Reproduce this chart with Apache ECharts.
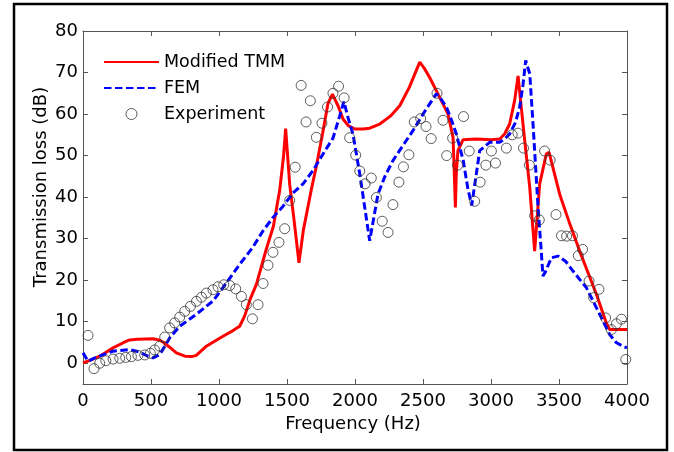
<!DOCTYPE html>
<html>
<head>
<meta charset="utf-8">
<script src="https://cdn.jsdelivr.net/npm/echarts@6/dist/echarts.min.js"></script>
<style>
html,body{margin:0;padding:0;background:#fff;}
#chart{width:674px;height:452px;}
</style>
</head>
<body>
<div id="chart"></div>
<script>
var xTicks = [0,500,1000,1500,2000,2500,3000,3500,4000];
var yTicks = [0,10,20,30,40,50,60,70,80];

var tmmFreq = [0,60,123,221,300,343,400,515,560,588,640,686,750,800,833,907,1029,1100,1152,1189,1230,1275,1348,1400,1432,1446,1475,1490,1500,1520,1550,1588,1620,1680,1716,1760,1801,1834,1875,1912,1950,2000,2060,2108,2182,2260,2329,2400,2476,2510,2549,2623,2684,2721,2730,2738,2745,2757,2794,2892,3000,3064,3100,3137,3174,3199,3215,3248,3285,3321,3358,3407,3427,3505,3580,3652,3775,3848,3873,4000];
var tmmLoss = [0.1,0.8,1.7,3.7,5.0,5.6,5.8,5.9,5.6,5.1,3.8,2.5,1.7,1.6,1.9,4.1,6.5,7.8,8.9,11.4,15.5,19,27.5,33,39,41.5,50,56.5,52,43,35,24.2,32,42,47.5,55,62.5,64.8,62,58.8,57.2,56.4,56.4,56.6,57.6,59.5,62,66.5,72.5,71,68.8,64,60,54.4,46,37.5,46,51.2,53.8,54,53.8,54,55.2,57.6,63.3,69.2,64,53.6,42.3,27,43.2,50.4,50.8,40.7,33.5,27,16.6,9.7,8.1,8.1];

var femFreq = [0,37,100,221,343,417,470,515,564,600,637,711,834,956,1029,1152,1250,1324,1397,1471,1544,1618,1691,1765,1838,1887,1918,1950,1985,2035,2108,2169,2220,2279,2350,2426,2510,2598,2635,2672,2710,2745,2796,2830,2858,2885,2917,2990,3064,3100,3137,3180,3211,3235,3255,3285,3309,3346,3371,3382,3400,3444,3493,3550,3603,3701,3799,3873,3920,3971,4000];
var femLoss = [2.5,0.5,1.5,2.9,3.3,2.7,1.8,1.3,2.1,4,6.1,8.9,11.8,15,18.2,23.8,28,31.9,35.1,37.8,41,43.2,46.4,50.4,54.2,59.5,63,59,55.2,45.6,29.5,40.7,45,48.8,52.3,56,60.5,64.9,63.5,61.7,58.5,55.2,48.8,42,38,44,51.2,53.2,53.2,54,55.2,58,61.7,67,72.9,69.7,57.6,37.5,26.3,21,22,25.4,25.8,24.5,22.2,18.2,11.8,6.9,5,4.1,3.7];

var expFreq = [37,81,123,168,221,270,314,356,404,454,495,527,564,601,637,674,711,748,790,834,871,907,956,993,1035,1079,1123,1165,1201,1246,1287,1324,1360,1397,1441,1483,1520,1560,1604,1640,1672,1716,1757,1798,1838,1879,1920,1961,2005,2035,2074,2120,2157,2200,2243,2279,2323,2356,2396,2436,2483,2522,2560,2603,2647,2674,2718,2754,2798,2840,2880,2920,2962,3003,3033,3113,3156,3198,3239,3282,3321,3355,3394,3435,3478,3518,3556,3599,3642,3673,3721,3755,3794,3843,3885,3922,3959,3991];
var expLoss = [6.7,-1.3,0,0.6,1.0,1.2,1.4,1.6,1.9,2.0,2.4,3.2,4.1,6.3,8.5,9.7,11.1,12.5,13.7,14.9,15.9,16.9,17.7,18.4,18.9,18.7,17.9,16.1,14.1,10.7,14.1,19.2,23.6,26.7,29.1,32.4,39.2,47.2,66.9,58.1,63.2,54.4,57.8,61.7,65,66.7,63.9,54.3,50.1,46.3,43.2,44.6,39.9,34.2,31.5,38.2,43.6,47.3,50.2,58.1,58.9,57,54.1,65,58.5,50,54.2,47.7,59.4,51.1,39,43.6,47.7,51.1,48.2,51.8,55,55.4,51.8,47.7,35.5,34.5,51.1,48.9,35.8,30.7,30.6,30.7,25.9,27.4,19.8,15.8,17.8,10.9,8.1,9.5,10.6,0.9];

function zip(a,b){return a.map(function(v,i){return [v,b[i]];});}

var chart = echarts.init(document.getElementById('chart'), null, {renderer:'canvas'});
var FONT = 'DejaVu Sans';
var axisColor = '#555';
function plain(v){return String(v);}

chart.setOption({
  animation:false,
  backgroundColor:'#fff',
  textStyle:{fontFamily:FONT},
  grid:{left:83, right:47, top:31, bottom:68, containLabel:false},
  legend:{
    orient:'vertical', left:103, top:51, padding:0,
    itemWidth:55, itemHeight:11, itemGap:4,
    textStyle:{fontFamily:FONT, fontSize:17.5, color:'#000', lineHeight:22},
    data:[
      {name:'Modified TMM', itemStyle:{opacity:0}},
      {name:'FEM', itemStyle:{opacity:0}},
      {name:'Experiment', itemStyle:{borderWidth:0.8, borderColor:'#333', color:'rgba(0,0,0,0)'}}
    ]
  },
  xAxis:[{
    type:'value', min:0, max:4000, interval:500, position:'bottom',
    axisLine:{show:true, onZero:false, lineStyle:{color:axisColor, width:1}},
    axisTick:{show:true, inside:true, length:5, lineStyle:{color:axisColor}},
    axisLabel:{show:true, fontFamily:FONT, fontSize:18, color:'#000', margin:8, formatter:plain},
    splitLine:{show:false}
  },{
    type:'value', min:0, max:4000, interval:500, position:'top',
    axisLine:{show:true, onZero:false, lineStyle:{color:axisColor, width:1}},
    axisTick:{show:true, inside:true, length:5, lineStyle:{color:axisColor}},
    axisLabel:{show:false},
    splitLine:{show:false}
  }],
  yAxis:[{
    type:'value', min:-5, max:80, position:'left',
    axisLine:{show:true, onZero:false, lineStyle:{color:axisColor, width:1}},
    axisTick:{show:true, inside:true, length:5, lineStyle:{color:axisColor}, customValues:yTicks},
    axisLabel:{show:true, fontFamily:FONT, fontSize:18, color:'#000', margin:5, customValues:yTicks, formatter:plain},
    splitLine:{show:false}
  },{
    type:'value', min:-5, max:80, position:'right',
    axisLine:{show:true, onZero:false, lineStyle:{color:axisColor, width:1}},
    axisTick:{show:true, inside:true, length:5, lineStyle:{color:axisColor}, customValues:yTicks},
    axisLabel:{show:false},
    splitLine:{show:false}
  }],
  graphic:[
    {type:'rect', shape:{x:14, y:4, width:653, height:446}, style:{fill:null, stroke:'#000', lineWidth:2.5}, silent:true},
    {type:'text', x:353, y:424, style:{text:'Frequency (Hz)', font:'18px "DejaVu Sans"', fill:'#000', textAlign:'center', textVerticalAlign:'middle'}},
    {type:'text', x:41.5, y:187, rotation:Math.PI/2, style:{text:'Transmission loss (dB)', font:'18px "DejaVu Sans"', fill:'#000', textAlign:'center', textVerticalAlign:'middle'}}
  ],
  series:[
    {name:'Modified TMM', type:'line', data:zip(tmmFreq,tmmLoss), showSymbol:false, symbol:'none',
     lineStyle:{color:'#ff0000', width:3}, itemStyle:{color:'#ff0000'}, z:2},
    {name:'FEM', type:'line', data:zip(femFreq,femLoss), showSymbol:false, symbol:'none',
     lineStyle:{color:'#0000ff', width:3, type:[7.5,3.5]}, itemStyle:{color:'#0000ff'}, z:3},
    {name:'Experiment', type:'scatter', data:zip(expFreq,expLoss), symbol:'circle', symbolSize:10,
     itemStyle:{color:'rgba(0,0,0,0)', borderColor:'#333', borderWidth:0.8, opacity:1}, z:4}
  ]
});
</script>
</body>
</html>
